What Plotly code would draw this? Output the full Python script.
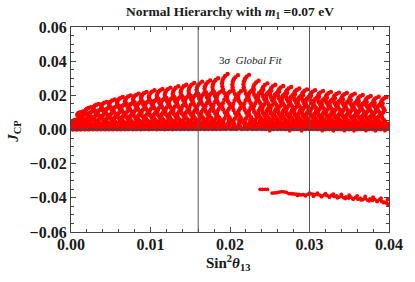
import plotly.graph_objects as go

# ---------------- data ----------------
# main family of arcs: column position (sin^2 theta13) and top J_CP
colA_x = [0.0005, 0.0015, 0.0025, 0.0035, 0.0045, 0.0055, 0.0065, 0.0075, 0.0085, 0.0095,
          0.0105, 0.0115, 0.0125, 0.0135, 0.0145, 0.0155, 0.0165, 0.0175, 0.0185, 0.0197,
          0.0210, 0.0224, 0.0236, 0.0247, 0.0257, 0.0267, 0.0277, 0.0287, 0.0297, 0.0307,
          0.0317, 0.0327, 0.0337, 0.0347, 0.0357, 0.0367, 0.0377, 0.0387, 0.0397]
colA_top = [0.0050, 0.0105, 0.0130, 0.0150, 0.0162, 0.0176, 0.0190, 0.0200, 0.0210, 0.0220,
            0.0230, 0.0237, 0.0245, 0.0253, 0.0262, 0.0272, 0.0280, 0.0287, 0.0300, 0.0325,
            0.0318, 0.0320, 0.0285, 0.0270, 0.0262, 0.0255, 0.0249, 0.0240, 0.0235, 0.0230,
            0.0225, 0.0220, 0.0216, 0.0214, 0.0210, 0.0202, 0.0196, 0.0192, 0.0190]
# secondary (inner) family of arcs
colB_x = [0.0010, 0.0020, 0.0030, 0.0040, 0.0050, 0.0060, 0.0070, 0.0080, 0.0090, 0.0100,
          0.0110, 0.0120, 0.0130, 0.0140, 0.0150, 0.0160, 0.0170, 0.0180, 0.0190, 0.0203,
          0.0217, 0.0230, 0.0242, 0.0252, 0.0262, 0.0272, 0.0282, 0.0292, 0.0302, 0.0312,
          0.0322, 0.0332, 0.0342, 0.0352, 0.0362, 0.0372, 0.0382, 0.0392]
colB_top = [0.0060, 0.0090, 0.0110, 0.0120, 0.0130, 0.0140, 0.0150, 0.0160, 0.0165, 0.0170,
            0.0180, 0.0185, 0.0190, 0.0195, 0.0200, 0.0210, 0.0215, 0.0220, 0.0225, 0.0230,
            0.0232, 0.0235, 0.0232, 0.0228, 0.0222, 0.0215, 0.0208, 0.0202, 0.0197, 0.0192,
            0.0187, 0.0182, 0.0177, 0.0172, 0.0167, 0.0162, 0.0157, 0.0152]
# shape of one arc column: fraction of the top height and
# horizontal offset (fraction of arc width) of each dot, from the top down
arc_yfrac = [1.00, 0.965, 0.925, 0.88, 0.83, 0.775, 0.715, 0.655, 0.595, 0.535, 0.475,
             0.415, 0.36, 0.305, 0.25, 0.20, 0.155, 0.11, 0.07, 0.035, 0.01,
             0.175, 0.13, 0.09, 0.05, 0.02]
arc_dxfrac = [0.0, -0.45, -0.75, -0.92, -1.0, -0.95, -0.8, -0.55, -0.35, -0.6, -0.85,
              -0.95, -0.8, -0.5, -0.3, -0.55, -0.8, -0.9, -0.7, -0.45, -0.3,
              0.2, 0.3, 0.25, 0.35, 0.2]
arc_width = 0.0007

# negative J_CP branch
neg_x = [0.0238, 0.0241, 0.0244, 0.0247, 0.0253, 0.0256, 0.0259, 0.0262, 0.0265, 0.0268,
         0.0271, 0.0274, 0.0277, 0.0280, 0.0283, 0.0286, 0.0289, 0.0292, 0.0295, 0.0298,
         0.0301, 0.0304, 0.0307, 0.0310, 0.0313, 0.0316, 0.0319, 0.0322, 0.0325, 0.0328,
         0.0331, 0.0334, 0.0337, 0.0340, 0.0343, 0.0346, 0.0349, 0.0352, 0.0355, 0.0358,
         0.0361, 0.0364, 0.0367, 0.0370, 0.0373, 0.0376, 0.0379, 0.0382, 0.0385, 0.0388,
         0.0391, 0.0394, 0.0397, 0.0399,
         0.0300, 0.0310, 0.0320, 0.0330, 0.0340, 0.0350, 0.0360, 0.0370, 0.0380, 0.0390, 0.0398,
         0.0285, 0.0295, 0.0305, 0.0315, 0.0325, 0.0335, 0.0345, 0.0355, 0.0365, 0.0375,
         0.0385, 0.0393, 0.0398]
neg_y = [-0.0350, -0.0350, -0.0350, -0.0351, -0.0372, -0.0371, -0.0370, -0.0366, -0.0364, -0.0365,
         -0.0368, -0.0375, -0.0376, -0.0377, -0.0378, -0.0380, -0.0383, -0.0381, -0.0384, -0.0380,
         -0.0376, -0.0378, -0.0381, -0.0379, -0.0384, -0.0388, -0.0382, -0.0386, -0.0391, -0.0385,
         -0.0392, -0.0389, -0.0396, -0.0390, -0.0399, -0.0394, -0.0401, -0.0396, -0.0405, -0.0398,
         -0.0408, -0.0402, -0.0410, -0.0404, -0.0413, -0.0406, -0.0415, -0.0409, -0.0418, -0.0411,
         -0.0421, -0.0425, -0.0430, -0.0440,
         -0.0372, -0.0373, -0.0376, -0.0379, -0.0380, -0.0384, -0.0388, -0.0392, -0.0396, -0.0402, -0.0410,
         -0.0386, -0.0388, -0.0390, -0.0393, -0.0396, -0.0400, -0.0404, -0.0408, -0.0412, -0.0417,
         -0.0422, -0.0428, -0.0435]
# few points just below zero
low_x = [0.0250, 0.0275, 0.0290, 0.0316, 0.0330, 0.0344, 0.0356, 0.0371, 0.0383, 0.0395]
low_y = [-0.0007, -0.0007, -0.0008, -0.0007, -0.0008, -0.0007, -0.0008, -0.0007, -0.0008, -0.0007]

sigma3_range = [0.016, 0.030]
x_ticks = [0.00, 0.01, 0.02, 0.03, 0.04]
y_ticks = [-0.06, -0.04, -0.02, 0.00, 0.02, 0.04, 0.06]

# ---------------- build point lists ----------------
pos_x, pos_y = [], []
for cx, top in list(zip(colA_x, colA_top)) + list(zip(colB_x, colB_top)):
    for yf, dxf in zip(arc_yfrac, arc_dxfrac):
        pos_x.append(cx + dxf * arc_width)
        pos_y.append(top * yf)

serif = "Liberation Serif"
ink = "#1a1a1a"
fig = go.Figure()
fig.add_trace(go.Scatter(x=pos_x, y=pos_y, mode="markers",
                         marker=dict(color="#ff0000", size=4.4, line=dict(width=0)),
                         showlegend=False, hoverinfo="skip"))
fig.add_trace(go.Scatter(x=neg_x + low_x, y=neg_y + low_y, mode="markers",
                         marker=dict(color="#ff0000", size=3.8, line=dict(width=0)),
                         showlegend=False, hoverinfo="skip"))

shapes = []
for xv in sigma3_range:
    shapes.append(dict(type="line", xref="x", yref="paper", x0=xv, x1=xv, y0=0, y1=1,
                       line=dict(color="#555555", width=1), layer="above"))
shapes.append(dict(type="line", xref="paper", yref="y", x0=0, x1=1, y0=0, y1=0,
                   line=dict(color="#444444", width=1.6), layer="above"))

axis_common = dict(showgrid=False, zeroline=False, showline=True, linecolor="#444444",
                   linewidth=1.2, mirror="allticks", ticks="inside", ticklen=5,
                   tickcolor="#444444", tickwidth=1,
                   tickfont=dict(family=serif, size=16, color=ink))

fig.update_layout(
    width=415, height=282,
    margin=dict(l=71, r=16, t=27, b=50),
    paper_bgcolor="white", plot_bgcolor="white",
    title=dict(text="<b>Normal Hierarchy with <i>m</i><sub>1</sub> =0.07 eV</b>",
               x=0.5, xref="paper", xanchor="center",
               y=1 - 11 / 282, yref="container", yanchor="middle",
               font=dict(family=serif, size=13.5, color=ink)),
    xaxis=dict(range=[0, 0.04], tickvals=x_ticks,
               ticktext=[f"<b>{v:.2f}</b>" for v in x_ticks],
               ticklabelstandoff=-2,
               minor=dict(ticks="inside", dtick=0.002, ticklen=3, tickcolor="#444444"),
               **axis_common),
    yaxis=dict(range=[-0.06, 0.06], tickvals=y_ticks,
               ticktext=["<b>" + ("\u2212" if v < 0 else "") + f"{abs(v):.2f}</b>" for v in y_ticks],
               minor=dict(ticks="inside", dtick=0.005, ticklen=3, tickcolor="#444444"),
               **axis_common),
    shapes=shapes,
    annotations=[
        dict(text="3<i>σ</i>  <i>Global Fit</i>", x=0.0226, y=0.0405, xref="x", yref="y",
             showarrow=False, font=dict(family=serif, size=11, color=ink)),
        dict(text="<b>Sin<sup>2</sup><i>θ</i><sub>13</sub></b>", x=0.495, xref="paper",
             xanchor="center", y=(232 - 263) / 205, yref="paper", yanchor="middle",
             showarrow=False, font=dict(family=serif, size=15, color=ink)),
        dict(text="<b><i>J</i><sub>CP</sub></b>", x=(12 - 71) / 328, xref="paper",
             xanchor="center", y=(232 - 131) / 205, yref="paper", yanchor="middle",
             showarrow=False, textangle=-90,
             font=dict(family=serif, size=15, color=ink)),
    ],
)
fig.write_html("out.html", config={"displayModeBar": False},
               post_script="document.body.style.margin='0';document.body.style.padding='0';")
